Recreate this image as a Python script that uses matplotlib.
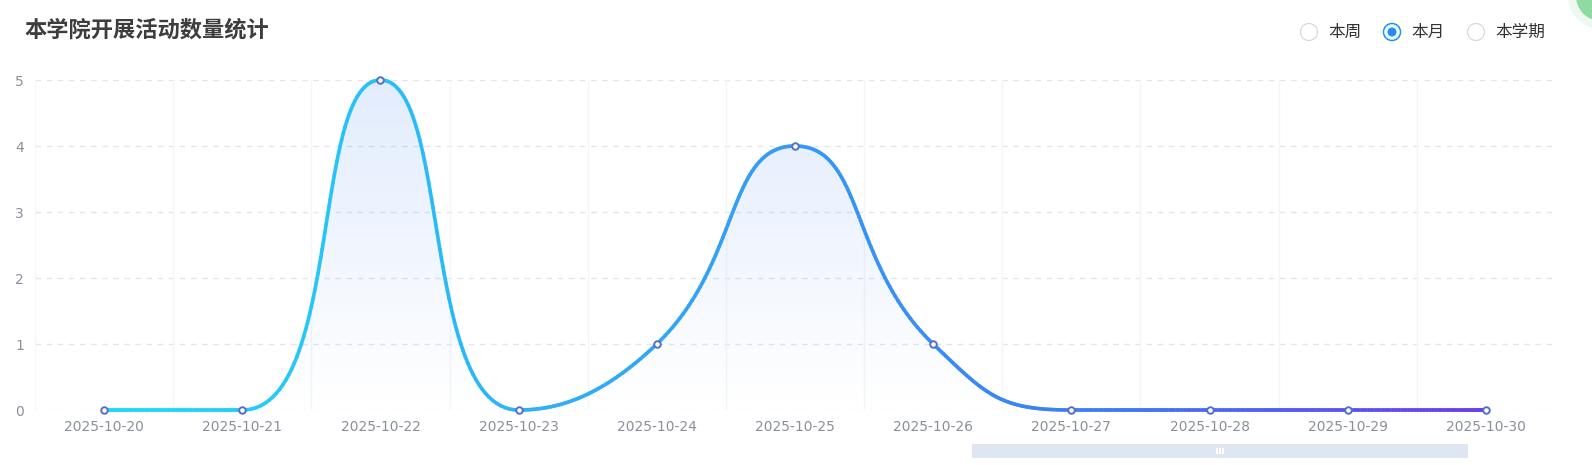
import numpy as np
import matplotlib
matplotlib.use('Agg')
from matplotlib import pyplot as plt
from matplotlib.collections import LineCollection
from matplotlib.colors import LinearSegmentedColormap
from matplotlib.patches import Circle, Rectangle, Polygon

plt.rcParams['font.family'] = ['Noto Sans CJK SC', 'DejaVu Sans']

# data
dates = ['2025-10-20', '2025-10-21', '2025-10-22', '2025-10-23', '2025-10-24', '2025-10-25',
         '2025-10-26', '2025-10-27', '2025-10-28', '2025-10-29', '2025-10-30']
counts = [0, 0, 5, 0, 1, 4, 1, 0, 0, 0, 0]
y_ticks = [0, 1, 2, 3, 4, 5]
title = '本学院开展活动数量统计'
periods = ['本周', '本月', '本学期']
selected = '本月'

W, H = 1592, 465
fig = plt.figure(figsize=(W / 100, H / 100), dpi=100)
fig.patch.set_facecolor('white')

# plot area in pixels: x 35..1555, y 80..410
ax = fig.add_axes([35 / W, 55 / H, 1520 / W, 330 / H])
ax.set_facecolor('none')
n = len(dates)
xs = np.arange(n)
ax.set_xlim(-0.5, n - 0.5)
ax.set_ylim(0, max(y_ticks))
for s in ax.spines.values():
    s.set_visible(False)

ax.set_yticks(y_ticks)
ax.set_xticks(xs)
ax.set_xticklabels(dates, family='DejaVu Sans')
ax.set_yticklabels([str(v) for v in y_ticks], family='DejaVu Sans')
ax.tick_params(axis='both', length=0, labelsize=10, colors='#8a8f9a')
ax.tick_params(axis='x', pad=7)
ax.tick_params(axis='y', pad=8)

for v in y_ticks:
    ax.axhline(v, color='#e0e6f1', lw=1, ls=(0, (4, 4)), zorder=0)
for b in np.arange(n) - 0.5:
    ax.axvline(b, color='#f4f5f8', lw=1, zorder=0)


# echarts style smooth curve, computed in pixel space
def smooth_path(px, py, smooth=0.5):
    pts = []
    cp0x, cp0y = px[0], py[0]
    for i in range(1, len(px)):
        x, y = px[i], py[i]
        prx, pry = px[i - 1], py[i - 1]
        if i == len(px) - 1:
            cp1x, cp1y = x, y
            ncx, ncy = x, y
        else:
            nx, ny = px[i + 1], py[i + 1]
            vx, vy = nx - prx, ny - pry
            lp = np.hypot(x - prx, y - pry)
            ln = np.hypot(nx - x, ny - y)
            r = ln / (ln + lp)
            ncx = x + vx * smooth * r
            ncy = y + vy * smooth * r
            ncx = max(min(ncx, max(nx, x)), min(nx, x))
            ncy = max(min(ncy, max(ny, y)), min(ny, y))
            vx, vy = ncx - x, ncy - y
            cp1x = x - vx * lp / ln
            cp1y = y - vy * lp / ln
            cp1x = max(min(cp1x, max(prx, x)), min(prx, x))
            cp1y = max(min(cp1y, max(pry, y)), min(pry, y))
            vx, vy = x - cp1x, y - cp1y
            ncx = x + vx * ln / lp
            ncy = y + vy * ln / lp
        t = np.linspace(0, 1, 60)[:, None]
        P0 = np.array([prx, pry]); P1 = np.array([cp0x, cp0y])
        P2 = np.array([cp1x, cp1y]); P3 = np.array([x, y])
        seg = ((1 - t) ** 3) * P0 + 3 * ((1 - t) ** 2) * t * P1 + 3 * (1 - t) * t ** 2 * P2 + t ** 3 * P3
        pts.append(seg if i == 1 else seg[1:])
        cp0x, cp0y = ncx, ncy
    return np.vstack(pts)


disp = ax.transData.transform(np.column_stack([xs, counts]))
curve_px = smooth_path(disp[:, 0], disp[:, 1])
curve = ax.transData.inverted().transform(curve_px)
cx, cy = curve[:, 0], curve[:, 1]

# area fill with vertical gradient
fill_cmap = LinearSegmentedColormap.from_list('fill', [(59/255, 130/255, 246/255, 0.0),
                                                        (59/255, 130/255, 246/255, 0.15)])
grad = np.linspace(0, 1, 256).reshape(-1, 1)
im = ax.imshow(grad, cmap=fill_cmap, origin='lower', aspect='auto',
               extent=[xs[0], xs[-1], 0, max(counts)], zorder=1)
poly = Polygon(np.vstack([curve, [[xs[-1], 0], [xs[0], 0]]]), closed=True,
               facecolor='none', edgecolor='none', transform=ax.transData)
ax.add_patch(poly)
im.set_clip_path(poly)
ax.set_xlim(-0.5, n - 0.5)
ax.set_ylim(0, max(y_ticks))

# gradient line
line_cmap = LinearSegmentedColormap.from_list('line', [(0.0, '#1ed9fb'), (0.45, '#33a0f6'),
                                                       (0.7, '#3b80f6'), (1.0, '#6a3cf0')])
segs = np.stack([curve[:-1], curve[1:]], axis=1)
frac = ((cx[:-1] + cx[1:]) / 2 - xs[0]) / (xs[-1] - xs[0])
lc = LineCollection(segs, colors=line_cmap(frac), linewidths=2.6, capstyle='round', zorder=3)
lc.set_clip_on(False)
ax.add_collection(lc)

ax.scatter(xs, counts, s=22, facecolor='white', edgecolor='#5470c6', linewidth=1.4,
           zorder=4, clip_on=False)

# overlay for title, radio buttons and slider (pixel coordinates)
ov = fig.add_axes([0, 0, 1, 1], zorder=-1)
ov.set_xlim(0, W)
ov.set_ylim(H, 0)
ov.axis('off')

ov.text(24, 30, title, fontsize=16, fontweight='bold', color='#3d3d3d', va='center', ha='left')

radio_x = [1309, 1392, 1476]
for rx, label in zip(radio_x, periods):
    if label == selected:
        ov.add_patch(Circle((rx, 32), 8.5, facecolor='white', edgecolor='#1890ff', lw=1.1))
        ov.add_patch(Circle((rx, 32), 4.5, facecolor='#1890ff', edgecolor='none'))
    else:
        ov.add_patch(Circle((rx, 32), 8.5, facecolor='white', edgecolor='#d9d9d9', lw=0.9))
    ov.text(rx + 19, 32, label, fontsize=12, color='#333333', va='center', ha='left')

# corner decoration
ov.add_patch(Circle((1601, -4), 33, facecolor='#eef8f1', edgecolor='none'))
ov.add_patch(Circle((1601, -4), 25, facecolor='#8fd9a2', edgecolor='none'))

# data zoom slider
ov.add_patch(Rectangle((972, 444), 496, 14, facecolor='#dee6f2', edgecolor='none'))
for dx in (-3, 0, 3):
    ov.add_patch(Rectangle((1220 + dx - 0.7, 448), 1.4, 6, facecolor='white', edgecolor='none'))

fig.savefig('out.png', dpi=100)
